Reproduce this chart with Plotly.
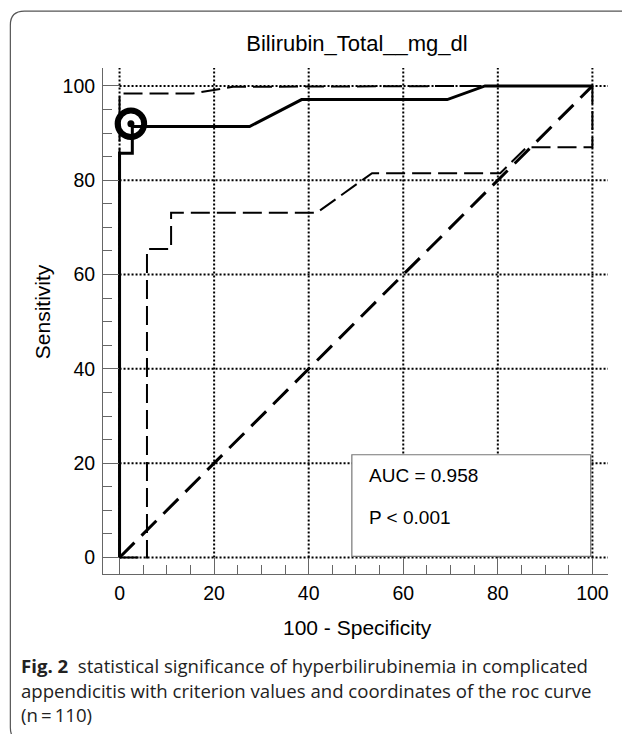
import plotly.graph_objects as go

# ---------------- data ----------------
roc_x = [0, 0, 2.7, 2.7, 27.5, 38.5, 69.3, 77.3, 100]
roc_y = [0, 85.7, 85.7, 91.4, 91.4, 97.1, 97.1, 100, 100]

upper_ci_x = [0, 0, 15.5, 24.0, 77.3, 100]
upper_ci_y = [0, 98.4, 98.4, 99.8, 100, 100]

lower_ci_x = [0, 5.8, 5.8, 10.9, 10.9, 41.7, 53.4, 80.5, 86.1, 100, 100]
lower_ci_y = [0, 0, 65.4, 65.4, 73.1, 73.1, 81.5, 81.5, 87.0, 87.0, 100]

ref_x = [0, 100]
ref_y = [0, 100]

crit_x = [2.4]
crit_y = [92.0]

tick_vals = [0, 20, 40, 60, 80, 100]
auc_text = "AUC = 0.958"
p_text = "P < 0.001"
title_text = "Bilirubin_Total__mg_dl"
x_title = "100 - Specificity"
y_title = "Sensitivity"
caption_lines = [
    "<b>Fig. 2</b>  statistical significance of hyperbilirubinemia in complicated",
    "appendicitis with criterion values and coordinates of the roc curve",
    "(n\u2009=\u2009110)",
]

# ---------------- layout geometry ----------------
W, H = 622, 734
L, R, T, B = 102.7, 14, 68, 159.7
XR = [-3.5, 103.3]
YR = [-3.5, 103.8]
PW = W - L - R
PH = H - T - B


def px2paper_x(px):
    return (px - L) / PW


def px2paper_y(py):
    return (H - B - py) / PH


def px2data_x(px):
    return XR[0] + px2paper_x(px) * (XR[1] - XR[0])


def px2data_y(py):
    return YR[0] + px2paper_y(py) * (YR[1] - YR[0])


FONT = "Liberation Sans, Arial, sans-serif"
AX_COL = "#666666"

fig = go.Figure()

# reference diagonal
fig.add_trace(go.Scatter(x=ref_x, y=ref_y, mode="lines",
                         line=dict(color="black", width=3, dash="21px,10px"),
                         hoverinfo="skip", showlegend=False))
# confidence bounds
fig.add_trace(go.Scatter(x=upper_ci_x, y=upper_ci_y, mode="lines",
                         line=dict(color="black", width=2, dash="19px,7px"),
                         hoverinfo="skip", showlegend=False))
fig.add_trace(go.Scatter(x=lower_ci_x, y=lower_ci_y, mode="lines",
                         line=dict(color="black", width=2, dash="19px,7px"),
                         hoverinfo="skip", showlegend=False))
# ROC curve
fig.add_trace(go.Scatter(x=roc_x, y=roc_y, mode="lines",
                         line=dict(color="black", width=3),
                         hoverinfo="skip", showlegend=False))
# criterion marker: ring + centre dot
fig.add_trace(go.Scatter(x=crit_x, y=crit_y, mode="markers",
                         marker=dict(symbol="circle-open", size=26.5, color="black",
                                     line=dict(color="black", width=6)),
                         hoverinfo="skip", showlegend=False))
fig.add_trace(go.Scatter(x=crit_x, y=crit_y, mode="markers",
                         marker=dict(symbol="circle", size=7, color="black"),
                         hoverinfo="skip", showlegend=False))

shapes = []
# dotted grid lines (start at 0, run to the axis end)
for v in tick_vals:
    shapes.append(dict(type="line", xref="x", yref="y", x0=0, x1=XR[1], y0=v, y1=v,
                       line=dict(color="black", width=2, dash="2px,2px"), layer="below"))
    shapes.append(dict(type="line", xref="x", yref="y", x0=v, x1=v, y0=0, y1=YR[1],
                       line=dict(color="black", width=2, dash="2px,2px"), layer="below"))
# AUC box (white, covers grid) - same layer as the grid so it sits on top of it
shapes.append(dict(type="rect", xref="x", yref="y",
                   x0=px2data_x(351.7), x1=px2data_x(590.7),
                   y0=px2data_y(556.7), y1=px2data_y(455), fillcolor="white",
                   line=dict(color="#777777", width=1.2), layer="below"))

# rounded outer frame of the figure panel
def P(px, py):
    return f"{px2paper_x(px):.5f},{px2paper_y(py):.5f}"

frame_path = ("M " + P(640, 742) + " L " + P(24, 742) + " Q " + P(10, 742) + " " + P(10, 728) +
              " L " + P(10, 25) + " Q " + P(10, 11) + " " + P(24, 11) + " L " + P(640, 11))
shapes.append(dict(type="path", xref="paper", yref="paper", path=frame_path,
                   line=dict(color="#555555", width=1.2), layer="above"))

annotations = [
    dict(text=auc_text, xref="paper", yref="paper", x=px2paper_x(367), y=px2paper_y(476),
         xanchor="left", yanchor="middle", showarrow=False,
         font=dict(family=FONT, size=19, color="black")),
    dict(text=p_text, xref="paper", yref="paper", x=px2paper_x(367), y=px2paper_y(518),
         xanchor="left", yanchor="middle", showarrow=False,
         font=dict(family=FONT, size=19, color="black")),
    dict(text=x_title, xref="paper", yref="paper", x=px2paper_x(357), y=px2paper_y(628),
         xanchor="center", yanchor="middle", showarrow=False,
         font=dict(family=FONT, size=21, color="black")),
    dict(text=y_title, xref="paper", yref="paper", x=px2paper_x(43), y=px2paper_y(312),
         xanchor="center", yanchor="middle", showarrow=False, textangle=-90,
         font=dict(family=FONT, size=21, color="black")),
]
cap_y = [666, 691, 715]
for line, cy in zip(caption_lines, cap_y):
    annotations.append(dict(text=line, xref="paper", yref="paper", x=px2paper_x(19),
                            y=px2paper_y(cy), xanchor="left", yanchor="middle",
                            showarrow=False,
                            font=dict(family="Open Sans, Noto Sans, sans-serif",
                                      size=18.6, color="#222222")))

axis_common = dict(
    showgrid=False, zeroline=False, showline=True, linecolor=AX_COL, linewidth=1,
    ticks="inside", ticklen=16, tickwidth=1, tickcolor=AX_COL,
    tickvals=tick_vals, tickfont=dict(family=FONT, size=19.5, color="black"),
    minor=dict(dtick=5, tick0=0, ticks="inside", ticklen=9, tickwidth=1, tickcolor=AX_COL,
               showgrid=False),
    mirror=False, fixedrange=True, automargin=False,
)

fig.update_layout(
    width=W, height=H,
    margin=dict(l=L, r=R, t=T, b=B, pad=0, autoexpand=False),
    paper_bgcolor="white", plot_bgcolor="white",
    title=dict(text=title_text, x=357 / W, xanchor="center",
               y=1 - 43 / H, yanchor="middle", yref="container", xref="container",
               font=dict(family=FONT, size=22, color="black")),
    xaxis=dict(range=XR, ticklabelstandoff=2, **axis_common),
    yaxis=dict(range=YR, ticklabelstandoff=3, **axis_common),
    shapes=shapes,
    annotations=annotations,
    showlegend=False,
)

fig.write_html("out.html",
               config={"displayModeBar": False},
               post_script="document.body.style.margin='0px';document.body.style.overflow='hidden';")
